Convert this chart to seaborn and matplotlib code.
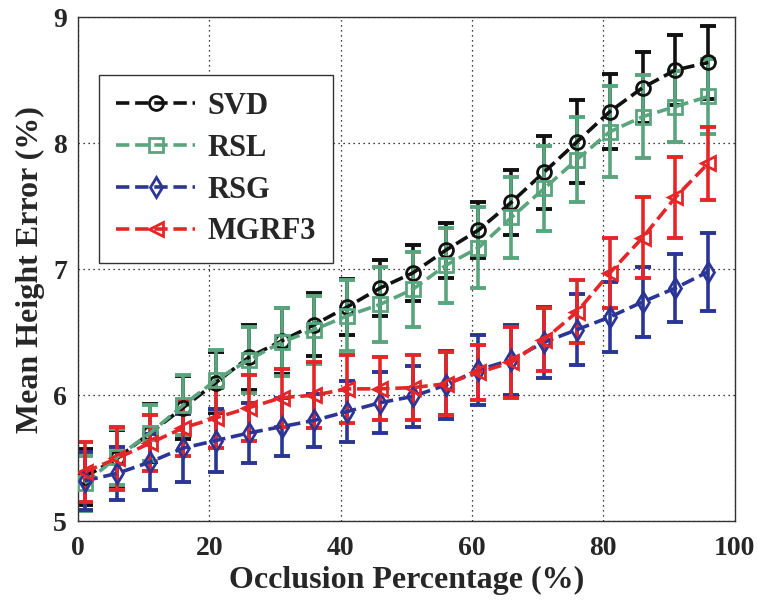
import matplotlib
matplotlib.use("Agg")
import matplotlib.pyplot as plt
import numpy as np
import pandas as pd
import seaborn as sns

# ── Data ──────────────────────────────────────────────────────────────────
occlusion = [1, 6, 11, 16, 21, 26, 31, 36, 41, 46, 51, 56, 61, 66, 71, 76, 81, 86, 91, 96]

svd_mean = [5.35, 5.50, 5.70, 5.90, 6.10, 6.30, 6.43, 6.56, 6.70, 6.85, 6.97,
            7.15, 7.31, 7.53, 7.77, 8.01, 8.25, 8.44, 8.58, 8.64]
svd_err = [0.22, 0.22, 0.23, 0.25, 0.24, 0.26, 0.26, 0.25, 0.22, 0.22, 0.22,
           0.22, 0.22, 0.26, 0.29, 0.33, 0.30, 0.28, 0.28, 0.29]

rsl_mean = [5.30, 5.51, 5.70, 5.92, 6.12, 6.28, 6.42, 6.52, 6.63, 6.72, 6.84,
            7.03, 7.17, 7.41, 7.64, 7.87, 8.09, 8.21, 8.29, 8.37]
rsl_err = [0.22, 0.22, 0.22, 0.24, 0.24, 0.26, 0.27, 0.27, 0.28, 0.30, 0.30,
           0.30, 0.32, 0.32, 0.34, 0.34, 0.36, 0.33, 0.28, 0.30]

rsg_mean = [5.32, 5.38, 5.47, 5.58, 5.64, 5.70, 5.75, 5.80, 5.87, 5.94, 5.99,
            6.08, 6.20, 6.28, 6.42, 6.52, 6.62, 6.74, 6.85, 6.98]
rsg_err = [0.23, 0.21, 0.22, 0.27, 0.25, 0.24, 0.23, 0.21, 0.24, 0.24, 0.24,
           0.27, 0.28, 0.28, 0.28, 0.28, 0.28, 0.28, 0.27, 0.31]

mgrf_mean = [5.39, 5.50, 5.62, 5.74, 5.82, 5.90, 5.98, 6.00, 6.05, 6.05, 6.06,
             6.09, 6.18, 6.26, 6.44, 6.66, 6.97, 7.25, 7.57, 7.84]
mgrf_err = [0.24, 0.25, 0.22, 0.22, 0.24, 0.26, 0.23, 0.26, 0.27, 0.25, 0.26,
            0.25, 0.22, 0.28, 0.25, 0.25, 0.28, 0.32, 0.32, 0.29]

methods = ["SVD", "RSL", "RSG", "MGRF3"]
x_ticks = [0, 20, 40, 60, 80, 100]
y_ticks = [5, 6, 7, 8, 9]

# ── Style ──────────────────────────────────────────────────────────────────
sns.set_style("white")
plt.rcParams["font.family"] = ["Liberation Serif", "DejaVu Serif"]
plt.rcParams["font.weight"] = "bold"

colors = {"SVD": "#111111", "RSL": "#5aa57d", "RSG": "#2a3596", "MGRF3": "#e52629"}
markers = {"SVD": "o", "RSL": "s", "RSG": "d", "MGRF3": "<"}

means = {"SVD": svd_mean, "RSL": rsl_mean, "RSG": rsg_mean, "MGRF3": mgrf_mean}
errs = {"SVD": svd_err, "RSL": rsl_err, "RSG": rsg_err, "MGRF3": mgrf_err}

fig = plt.figure(figsize=(7.58, 6.11), dpi=100)
ax = fig.add_axes([0.103, 0.147, 0.866, 0.825])

for name in methods:
    df = pd.DataFrame({"x": occlusion, "y": means[name]})
    c = colors[name]
    ax.errorbar(df["x"], df["y"], yerr=errs[name], fmt="none", ecolor=c,
                elinewidth=2.6, capsize=5.5, capthick=2.8, zorder=2)
    sns.lineplot(data=df, x="x", y="y", ax=ax, color=c, linestyle="--",
                 linewidth=2.6, marker=markers[name], markersize=10,
                 markerfacecolor="none", markeredgecolor=c, markeredgewidth=2.0,
                 label=name, zorder=3)

ax.set_xlim(0, 100)
ax.set_ylim(5, 9)
ax.set_xticks(x_ticks)
ax.set_yticks(y_ticks)
ax.tick_params(axis="x", direction="in", length=5, width=0.8, labelsize=20, pad=11)
ax.tick_params(axis="y", direction="in", length=5, width=0.8, labelsize=20, pad=8)
for lbl in ax.get_xticklabels() + ax.get_yticklabels():
    lbl.set_fontweight("bold")

ax.grid(True, color="black", linestyle=(0, (1, 3)), linewidth=0.9)
for sp in ax.spines.values():
    sp.set_visible(True)
    sp.set_color("#333333")
    sp.set_linewidth(1.0)

ax.set_xlabel("Occlusion Percentage (%)", fontsize=23, fontweight="bold", labelpad=3)
ax.set_ylabel("Mean Height Error (%)", fontsize=23, fontweight="bold", labelpad=6)

leg = ax.legend(loc="upper left", bbox_to_anchor=(0.032, 0.885),
                prop={"weight": "bold", "size": 22}, handlelength=2.6,
                labelspacing=0.42, borderpad=0.55, handletextpad=0.4,
                borderaxespad=0.0,
                frameon=True, fancybox=False, framealpha=1.0, edgecolor="#333333")
leg.get_frame().set_linewidth(1.0)

fig.savefig("out.png", dpi=100)
